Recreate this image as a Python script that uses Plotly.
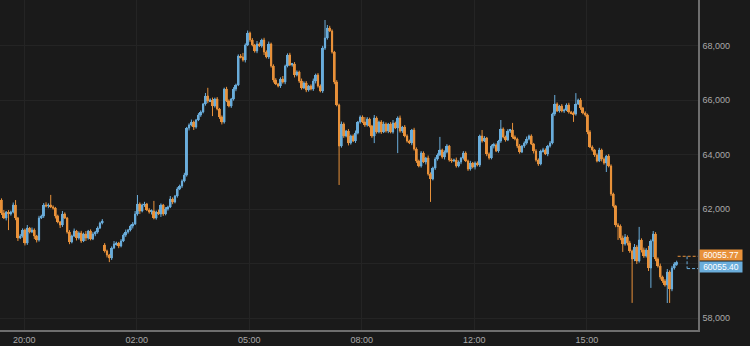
import plotly.graph_objects as go

# ---- data ----
closes_evening = [61863, 61680, 61900, 61827, 61900, 62157, 61680, 60946, 61020, 61240,
                  60763, 61313, 61166, 61240, 61020, 60873, 61680, 61753, 62157, 62120,
                  62157, 62083, 62047, 61753, 61533, 61423, 61827, 61680, 61166, 60800,
                  61020, 61203, 60946, 61130, 60836, 61093, 60946, 61203, 60910, 61093,
                  61166, 61313, 61496, 61570]
closes_night = [60469, 60323, 60212, 60579, 60726, 60763, 60653, 60836, 61056, 61166,
                61240, 61386, 61460, 61827, 62193, 61937, 62157, 62193, 61973, 61900,
                61937, 61680, 61900, 61827, 62157, 61827, 62010, 62083, 62377, 62267,
                62487, 62744, 62854, 63037, 63257]
closes_early = [64981, 65091, 65201, 65018, 65274, 65458, 65568, 65861, 66155, 65971,
                66008, 65788, 66045, 65678, 65384, 65201, 66411, 65971, 65788, 66045,
                66411, 66558, 67622, 67585, 67475, 68025, 68466, 68209, 68025, 67805,
                68062, 67989, 68209, 67769, 67585, 68062, 67255, 66742, 66595, 66521,
                66778, 66668, 67255, 67659, 67292, 67329, 66925, 67035, 66705, 66448,
                66632, 66375, 66521, 66411, 66705, 66925, 66521, 66338, 67915]
closes_morning = [68282, 68649, 68539, 67769, 66668, 65825, 64321, 65128, 64688, 64871,
                  64431, 64688, 64504, 64798, 65201, 65384, 65201, 65091, 65311, 65054,
                  64688, 65348, 64834, 65201, 64834, 65128, 64871, 65128, 64834, 65164,
                  64981, 65348, 64871, 65018, 64688, 64504, 64431, 64908, 64211, 63771,
                  63587, 64064, 63734, 63881, 63294, 63110, 63514, 63844, 63991, 64174,
                  63917, 64101, 64321, 63807, 63771, 63807, 63587, 63734, 63881, 64064,
                  63771, 63477, 63697, 63550, 63697]
closes_midday = [63624, 64688, 64504, 64614, 64027, 63881, 64321, 64358, 64137, 64504,
                 64944, 64651, 64541, 64871, 64908, 64651, 64578, 64321, 64101, 64321,
                 64431, 64578, 64688, 64394, 64137, 63807, 63661, 64137, 64174, 64027,
                 64321, 64431, 65494, 65861, 65605, 65788, 65605, 65641, 65825, 65568,
                 65531, 65494, 65861, 66008, 65715, 65531, 65458, 64834, 64284, 64174,
                 63991, 63771, 64174, 63844, 63697, 63954, 63587, 62560, 62120, 61423]
closes_late = [61386, 60946, 60726, 60983, 60763, 60469, 60176, 60616, 60103, 60873,
               60506, 60286, 60506, 59846, 60836, 61093, 60176, 59919, 59516, 59369,
               59222, 59699, 59075, 59846, 59992, 60055.40]

first_open = 62340
gap_opens = {44: 60689}   # session resumes after the overnight gap

wick_up = [60, 110, 40, 70, 50, 90, 180, 40, 70, 60, 50, 110, 40, 90, 60, 40, 80, 50, 70, 100,
           60, 370, 60, 40, 50, 40, 110, 60, 40, 70, 50, 90, 40, 60, 80, 50, 110, 40, 60, 70,
           40, 60, 50, 70,
           70, 50, 40, 60, 110, 50, 40, 70, 60, 90, 40, 50, 70, 110, 330, 60, 50, 80, 40, 70,
           60, 370, 50, 90, 60, 40, 70, 50, 110, 60, 40, 70, 50, 60, 80,
           40, 60, 90, 50, 40, 70, 60, 40, 110, 300, 60, 90, 50, 70, 40, 60, 50, 80, 60, 40,
           70, 50, 60, 70, 150, 60, 90, 50, 70, 40, 110, 60, 50, 80, 60, 90, 50, 60, 70, 40,
           60, 110, 50, 60, 80, 40, 70, 60, 50, 90, 60, 70, 40, 60, 90, 50, 70, 60, 80,
           660, 110, 80, 60, 40, 70, 50, 90, 60, 40, 70, 50, 60, 90, 40, 60, 60, 180, 70, 50,
           40, 110, 60, 50, 70, 90, 60, 40, 70, 110, 50, 60, 90, 40, 70, 60, 50, 40, 80, 60,
           50, 70, 60, 40, 90, 60, 50, 70, 60, 480, 50, 60, 70, 40, 60, 50, 90, 60, 40, 70,
           60, 50, 80, 40, 60,
           60, 50, 220, 70, 40, 60, 50, 80, 60, 40, 330, 60, 50, 70, 40, 260, 60, 50, 70, 40,
           60, 90, 50, 60, 40, 70, 60, 50, 80, 60, 40, 70, 50, 330, 60, 40, 70, 50, 60, 80,
           40, 60, 400, 50, 70, 40, 60, 50, 70, 60, 40, 60, 80, 50, 60, 40, 70, 60, 50, 40,
           70, 60, 90, 110, 60, 80, 50, 110, 70, 480, 60, 90, 70, 150, 60, 110, 70, 60, 90, 50,
           70, 110, 60, 80, 70, 60]
wick_dn = [70, 40, 90, 590, 60, 50, 80, 110, 40, 60, 90, 70, 50, 40, 110, 90, 60, 40, 70, 50,
           80, 40, 60, 90, 50, 110, 70, 40, 60, 80, 50, 40, 90, 60, 70, 40, 110, 60, 50, 40,
           80, 60, 40, 50,
           60, 90, 150, 70, 40, 60, 80, 50, 40, 70, 60, 50, 90, 40, 60, 110, 50, 70, 40, 60,
           90, 50, 60, 40, 110, 70, 50, 60, 40, 80, 50, 60, 40, 70, 50,
           60, 90, 50, 110, 60, 40, 70, 50, 60, 80, 40, 370, 60, 50, 70, 90, 60, 40, 50, 70,
           60, 80, 40, 50, 60, 90, 40, 70, 50, 60, 80, 40, 60, 110, 50, 70, 60, 90, 40, 50,
           70, 60, 80, 50, 40, 60, 90, 50, 70, 60, 40, 80, 60, 50, 70, 90, 60, 50, 70,
           70, 60, 40, 60, 80, 50, 1430, 60, 70, 50, 90, 60, 40, 70, 50, 60, 40, 70, 60, 50,
           70, 260, 60, 50, 70, 40, 60, 80, 50, 60, 40, 920, 60, 70, 50, 60, 40, 80, 60, 70,
           50, 60, 40, 90, 60, 840, 50, 70, 60, 40, 60, 90, 50, 60, 70, 40, 60, 50, 80, 60,
           40, 70, 60, 50, 90,
           50, 70, 60, 40, 80, 60, 50, 90, 40, 60, 70, 50, 60, 40, 70, 60, 50, 80, 60, 40,
           70, 60, 50, 40, 90, 60, 70, 50, 60, 40, 80, 60, 50, 70, 40, 60, 50, 70, 40, 60,
           50, 290, 60, 40, 70, 50, 60, 80, 40, 60, 70, 50, 40, 90, 60, 330, 50, 70, 60, 80,
           510, 80, 290, 60, 90, 70, 1610, 80, 110, 60, 90, 70, 60, 110, 730, 590, 80, 60, 90, 70,
           60, 660, 510, 80, 60, 70]

tick_index = [9.7, 57.7, 105.7, 153.7, 201.7, 249.7]
tick_text = ["20:00", "02:00", "05:00", "08:00", "12:00", "15:00"]
price_ticks = [58000, 60000, 62000, 64000, 66000, 68000]
# the 60,000 label sits hidden behind the last-price boxes in the reference
price_text = ["58,000", "", "62,000", "64,000", "66,000", "68,000"]
last_labels = [60055.77, 60055.40]

# ---- build OHLC ----
closes = closes_evening + closes_night + closes_early + closes_morning + closes_midday + closes_late
n = len(closes)
x = list(range(n))
opens = [first_open] + closes[:-1]
for k, v in gap_opens.items():
    opens[k] = v
highs = [max(o, c) + u for o, c, u in zip(opens, closes, wick_up)]
lows = [min(o, c) - d for o, c, d in zip(opens, closes, wick_dn)]

BLUE = "#6aaddb"
ORANGE = "#e8913a"
BG = "#1a1a1a"
GRID = "#242424"
AXIS = "#6e6e6e"
TXT = "#a9a9a9"
FONT = "Liberation Sans, Arial, sans-serif"

up = [i for i in x if closes[i] >= opens[i]]
dn = [i for i in x if closes[i] < opens[i]]

fig = go.Figure()
# solid candle bodies (bars give crisp, full-width bodies)
for idx, col in ((up, BLUE), (dn, ORANGE)):
    fig.add_trace(go.Bar(
        x=idx, base=[min(opens[i], closes[i]) for i in idx],
        y=[abs(closes[i] - opens[i]) for i in idx],
        width=0.82, marker=dict(color=col, line=dict(width=0)),
        hoverinfo="skip", showlegend=False,
    ))
# wicks + body outline
fig.add_trace(go.Candlestick(
    x=x, open=opens, high=highs, low=lows, close=closes,
    increasing=dict(line=dict(color=BLUE, width=1), fillcolor=BLUE),
    decreasing=dict(line=dict(color=ORANGE, width=1), fillcolor=ORANGE),
    whiskerwidth=0, hoverinfo="skip", showlegend=False,
))

last_x = n - 1
last_c = closes[-1]
dash = "3px,2px"
fig.update_layout(
    width=750, height=346,
    margin=dict(l=0, r=52, t=0, b=16, pad=0),
    paper_bgcolor=BG, plot_bgcolor=BG,
    showlegend=False, barmode="overlay",
    boxgap=0.5, boxgroupgap=0,
    font=dict(family=FONT, size=9, color=TXT),
    xaxis=dict(
        range=[-0.64, 297.1], tickmode="array", tickvals=tick_index, ticktext=tick_text,
        showgrid=True, gridcolor=GRID, gridwidth=1, zeroline=False,
        showline=True, linecolor=AXIS, linewidth=1.5, ticks="",
        tickfont=dict(size=9, color=TXT), rangeslider=dict(visible=False),
    ),
    yaxis=dict(
        side="right", range=[57572, 69676], tickmode="array", tickvals=price_ticks,
        ticktext=price_text, showgrid=True, gridcolor=GRID, gridwidth=1, zeroline=False,
        showline=True, linecolor=AXIS, linewidth=1.5, ticks="",
        tickfont=dict(size=9, color=TXT), ticklabelstandoff=1,
    ),
    shapes=[
        dict(type="line", xref="x", yref="y", xsizemode="pixel", xanchor=last_x, x0=1, x1=30,
             ysizemode="pixel", yanchor=last_c, y0=6.0, y1=6.0,
             line=dict(color=ORANGE, width=1, dash=dash)),
        dict(type="line", xref="x", yref="y", xsizemode="pixel", xanchor=last_x, x0=10.4, x1=10.4,
             ysizemode="pixel", yanchor=last_c, y0=6.0, y1=-6.3,
             line=dict(color=BLUE, width=1, dash=dash)),
        dict(type="line", xref="x", yref="y", xsizemode="pixel", xanchor=last_x, x0=10.4, x1=30,
             ysizemode="pixel", yanchor=last_c, y0=-6.3, y1=-6.3,
             line=dict(color=BLUE, width=1, dash=dash)),
    ],
    annotations=[
        dict(x=1, xref="paper", xanchor="left", xshift=1, y=last_c, yref="y", yanchor="middle",
             yshift=6.9, text=f"{last_labels[0]:.2f}", showarrow=False, bgcolor=ORANGE,
             font=dict(color="#ffffff", size=8.5, family=FONT), borderpad=1, width=40, height=8),
        dict(x=1, xref="paper", xanchor="left", xshift=1, y=last_c, yref="y", yanchor="middle",
             yshift=-5.2, text=f"{last_labels[1]:.2f}", showarrow=False, bgcolor=BLUE,
             font=dict(color="#ffffff", size=8.5, family=FONT), borderpad=1, width=40, height=8),
    ],
)

fig.write_html("out.html")
